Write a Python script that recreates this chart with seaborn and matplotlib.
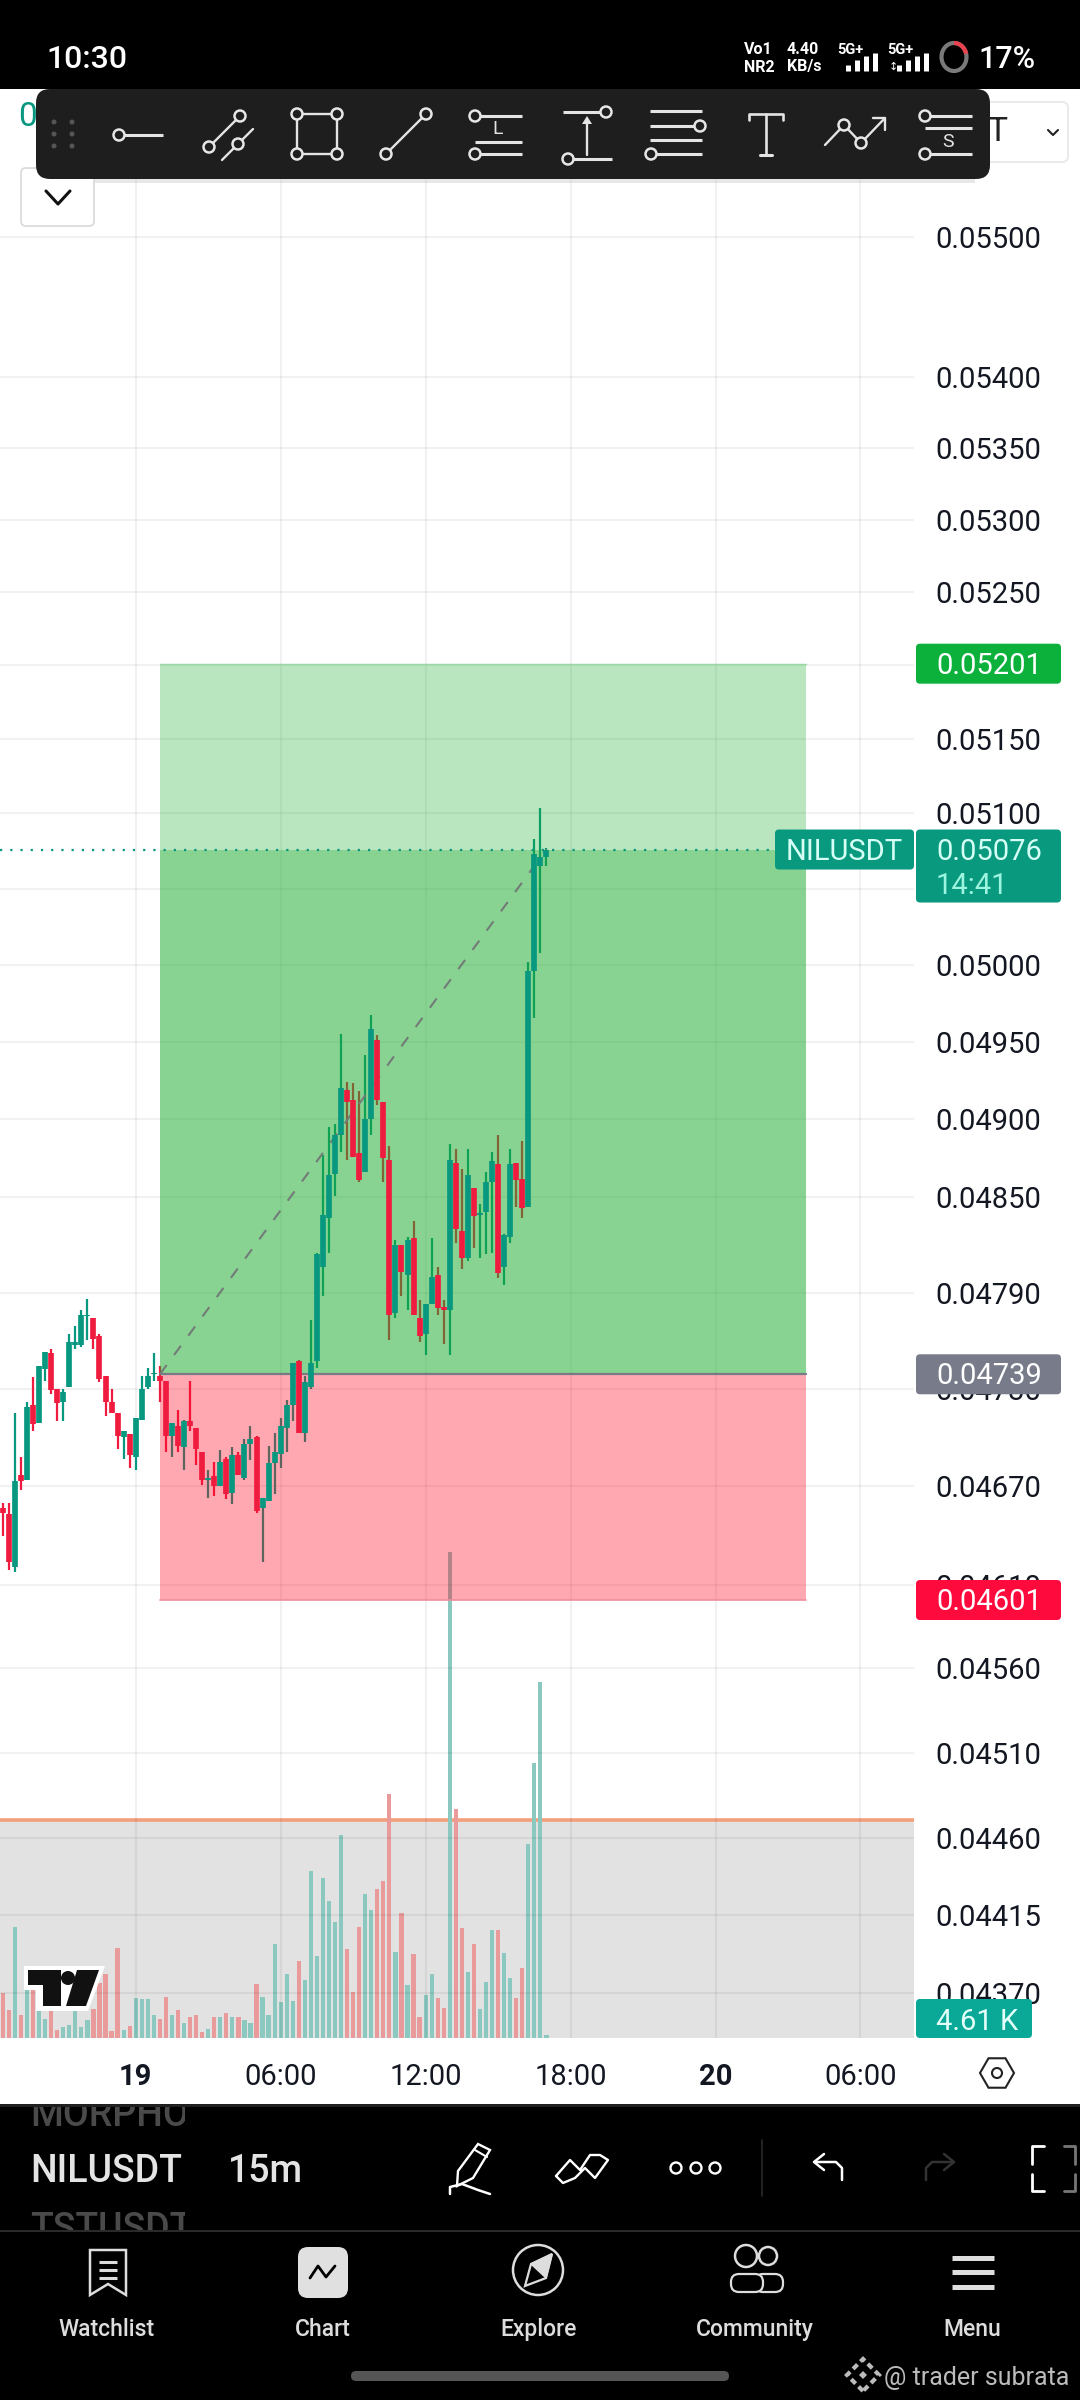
"""NILUSDT 15m chart screen with a long position box and volume."""
import numpy as np
import pandas as pd
import matplotlib
matplotlib.use("Agg")
import matplotlib.pyplot as plt
import seaborn as sns
from matplotlib.patches import Arc, Circle, FancyBboxPatch, Polygon, Rectangle, RegularPolygon
from matplotlib.ticker import NullLocator
from matplotlib.transforms import Bbox

# 15m bars, index 0 is the 00:00 bar of the 19th, prices in 0.00001
bar_index = list(range(-22, 69))
opens = [4657, 4653, 4621, 4677, 4674, 4720, 4709, 4742, 4752, 4730, 4722, 4731, 4757, 4757, 4775, 4774,
         4763, 4738, 4722, 4715, 4700, 4702, 4688, 4711, 4731, 4739, 4738, 4735, 4701, 4707, 4694, 4710,
         4706, 4691, 4674, 4676, 4670, 4687, 4666, 4689, 4675, 4696, 4700, 4657, 4661, 4684, 4690, 4706,
         4720, 4747, 4703, 4731, 4747, 4806, 4837, 4865, 4890, 4919, 4912, 4878, 4866, 4900, 4951, 4911,
         4874, 4777, 4820, 4801, 4824, 4774, 4764, 4783, 4801, 4781, 4779, 4872, 4829, 4812, 4856, 4839,
         4841, 4860, 4871, 4806, 4825, 4872, 4862, 4844, 4996, 5065, 5071]
highs = [4660, 4660, 4715, 4688, 4722, 4737, 4744, 4753, 4755, 4730, 4730, 4764, 4769, 4779, 4786, 4774,
         4764, 4738, 4730, 4715, 4704, 4702, 4712, 4738, 4743, 4752, 4744, 4735, 4709, 4717, 4711, 4735,
         4706, 4691, 4680, 4685, 4692, 4688, 4694, 4691, 4699, 4707, 4701, 4663, 4695, 4703, 4712, 4723,
         4746, 4748, 4738, 4773, 4815, 4877, 4895, 4897, 4955, 4924, 4923, 4918, 4941, 4967, 4954, 4911,
         4883, 4823, 4820, 4825, 4835, 4785, 4783, 4824, 4806, 4785, 4884, 4881, 4868, 4881, 4856, 4846,
         4866, 4879, 4890, 4827, 4881, 4872, 4886, 5002, 5083, 5104, 5077]
lows = [4640, 4619, 4618, 4668, 4674, 4704, 4709, 4735, 4727, 4710, 4710, 4731, 4755, 4756, 4760, 4755,
        4734, 4713, 4715, 4693, 4687, 4681, 4680, 4711, 4730, 4735, 4722, 4691, 4688, 4691, 4680, 4704,
        4683, 4671, 4663, 4664, 4670, 4662, 4659, 4677, 4674, 4686, 4654, 4624, 4661, 4665, 4681, 4691,
        4710, 4703, 4697, 4730, 4743, 4788, 4815, 4851, 4879, 4874, 4876, 4860, 4866, 4890, 4909, 4860,
        4760, 4774, 4788, 4779, 4776, 4759, 4751, 4783, 4776, 4758, 4751, 4821, 4805, 4810, 4818, 4812,
        4814, 4815, 4799, 4795, 4821, 4844, 4837, 4844, 4965, 5008, 5065]
closes = [4654, 4624, 4673, 4673, 4719, 4708, 4744, 4753, 4729, 4721, 4728, 4759, 4759, 4776, 4776, 4761,
          4736, 4722, 4715, 4701, 4704, 4689, 4712, 4730, 4738, 4740, 4735, 4701, 4709, 4695, 4710, 4707,
          4693, 4674, 4675, 4670, 4685, 4665, 4689, 4677, 4696, 4699, 4655, 4663, 4684, 4691, 4707, 4720,
          4746, 4703, 4734, 4746, 4814, 4839, 4864, 4890, 4920, 4911, 4876, 4861, 4900, 4958, 4912, 4875,
          4776, 4820, 4803, 4823, 4776, 4763, 4783, 4800, 4780, 4779, 4874, 4830, 4812, 4864, 4838, 4840,
          4860, 4873, 4802, 4826, 4871, 4861, 4843, 4996, 5073, 5071, 5076]
# volume in thousands
volumes = [72, 44, 177, 37, 77, 77, 44, 31, 43, 12, 17, 21, 44, 18, 28, 47, 88, 102, 11, 144, 12, 19,
           64, 62, 63, 37, 30, 66, 36, 45, 24, 33, 36, 10, 15, 33, 33, 40, 33, 33, 29, 24, 87, 66, 37,
           150, 57, 103, 59, 123, 93, 266, 131, 256, 219, 186, 325, 142, 74, 178, 230, 204, 238, 250,
           389, 138, 200, 84, 134, 34, 68, 103, 64, 48, 777, 365, 175, 106, 150, 46, 89, 172, 172, 136,
           96, 64, 112, 310, 439, 568, 4.61]

price_ticks = [0.055, 0.054, 0.0535, 0.053, 0.0525, 0.052, 0.0515, 0.051, 0.0505, 0.05, 0.0495, 0.049,
               0.0485, 0.0479, 0.0473, 0.0467, 0.0461, 0.0456, 0.0451, 0.0446, 0.04415, 0.0437]
price_labels = [f"{p:.5f}" for p in price_ticks]
time_ticks = [0, 24, 48, 72, 96, 120]
time_labels = ["19", "06:00", "12:00", "18:00", "20", "06:00"]

target_price = 0.05201
entry_price = 0.04739
stop_price = 0.04601
last_price = 0.05076
box_start, box_end = 4, 111
volume_level = 348

UP = "#089880"
DOWN = "#F01C40"
UP_VOL = "#8AC8C0"
DOWN_VOL = "#E99B9B"
W, H = 1080, 2400
TOP, BOTTOM, RIGHT = 89, 2038, 914

sns.set_theme(style="white")
plt.rcParams["font.family"] = ["Roboto", "DejaVu Sans"]

fig = plt.figure(figsize=(W / 100, H / 100), dpi=100, facecolor="white")
pos = [0, 1 - BOTTOM / H, RIGHT / W, (BOTTOM - TOP) / H]
vax = fig.add_axes(pos)
ax = fig.add_axes(pos, sharex=vax)
ax.patch.set_visible(False)

o, h, l, c = [np.array(s) / 1e5 for s in (opens, highs, lows, closes)]
x = np.array(bar_index)
up = c >= o

# volume pane sits under everything else
df = pd.DataFrame({"bar": x, "volume": volumes, "side": np.where(up, "up", "down")})
vax.axhspan(0, volume_level, color="#E2E2E2", lw=0, zorder=0)
vax.axhline(volume_level, color="#F49F7C", lw=2.6, zorder=1)
sns.barplot(data=df, x="bar", y="volume", hue="side", palette={"up": UP_VOL, "down": DOWN_VOL},
            native_scale=True, dodge=False, width=0.7, saturation=1, legend=False, ax=vax, zorder=2,
            edgecolor="none", linewidth=0)
vax.set(xlabel="", ylabel="", ylim=(0, 3113))
vax.set_yticks([])
vax.tick_params(axis="x", labelbottom=False, length=0)

ax.set_yscale("log")
ax.set_xlim(-22.47, 128.86)
ax.set_ylim(0.043446, 0.056074)
ax.yaxis.set_minor_locator(NullLocator())
ax.set_yticks(price_ticks, price_labels)
ax.yaxis.tick_right()
ax.set_xticks(time_ticks, time_labels)
ax.tick_params(axis="y", length=0, pad=15.5, labelsize=21, labelcolor="#131722")
ax.tick_params(axis="x", length=0, pad=18, labelsize=21, labelcolor="#131722")
for i in (0, 4):
    ax.get_xticklabels()[i].set_fontweight("bold")
ax.grid(True, color="black", alpha=0.055, lw=1.5, zorder=0)
ax.set_axisbelow(True)
for a in (ax, vax):
    for s in a.spines.values():
        s.set_visible(False)

# wicks go under the position box, bodies over it
ax.vlines(x[up], l[up], h[up], color=UP, lw=1.6, zorder=1)
ax.vlines(x[~up], l[~up], h[~up], color=DOWN, lw=1.6, zorder=1)

ax.fill_between([box_start, box_end], entry_price, target_price, color="#19AC2D", alpha=0.3, lw=0, zorder=2)
ax.fill_between([box_start, box_end], entry_price, last_price, color="#19AC2D", alpha=0.3, lw=0, zorder=2)
ax.fill_between([box_start, box_end], stop_price, entry_price, color="#FF0623", alpha=0.35, lw=0, zorder=2)
ax.plot([box_start, box_end], [target_price] * 2, color="#9BD8A6", lw=1, zorder=2.1)
ax.plot([box_start, box_end], [entry_price] * 2, color="#787B86", lw=1.6, zorder=2.1)
ax.plot([box_start, box_end], [stop_price] * 2, color="#EE8E9C", lw=1.2, zorder=2.1)
ax.axhline(last_price, color=UP, lw=1.6, ls=(0, (1, 3.6)), zorder=2.2)
ax.plot([box_start, bar_index[-1]], [entry_price, last_price], color="#737B78", lw=1.5, ls=(0, (5.5, 6)), zorder=2.3)

body_top = np.maximum(o, c)
body_bot = np.minimum(o, c)
ax.vlines(x[up], body_bot[up], body_top[up], color=UP, lw=4.1, zorder=3, capstyle="butt")
ax.vlines(x[~up], body_bot[~up], body_top[~up], color=DOWN, lw=4.1, zorder=3, capstyle="butt")

# screen chrome, drawn in pixel coordinates on an overlay
ui = fig.add_axes([0, 0, 1, 1], zorder=10)
ui.set_xlim(0, W)
ui.set_ylim(H, 0)
ui.axis("off")


def price_y(p):
    return H - ax.transData.transform((0, p))[1]


def box(x0, y0, x1, y1, color, r=4, **kw):
    ui.add_patch(FancyBboxPatch((x0 + r, y0 + r), x1 - x0 - 2 * r, y1 - y0 - 2 * r,
                                boxstyle=f"round,pad={r},rounding_size={r}", fc=color, ec=kw.pop("ec", "none"),
                                lw=kw.pop("lw", 0), **kw))


def line(xs, ys, color="#E6E6E6", lw=1.7, **kw):
    ui.plot(xs, ys, color=color, lw=lw, solid_capstyle=kw.pop("cap", "round"), **kw)


def dot(cx, cy, r=5.5, color="#E6E6E6", fc="none", lw=1.8):
    ui.add_patch(Circle((cx, cy), r, fc=fc, ec=color, lw=lw, zorder=5))


# price tags
tag_x0, tag_x1 = 916, 1061
for p, col, txt in [(target_price, "#0CB13C", "0.05201"), (entry_price, "#787B8A", "0.04739"),
                    (stop_price, "#FF0A3C", "0.04601")]:
    y = price_y(p)
    box(tag_x0, y - 20, tag_x1, y + 20, col)
    ui.text(936, y - 1, txt, color="white", fontsize=21, va="center_baseline")
y = price_y(last_price)
box(tag_x0, y - 20, tag_x1, y + 53, "#08997F")
ui.text(936, y - 1, "0.05076", color="#D5FFF5", fontsize=21, va="center_baseline")
ui.text(936, y + 33, "14:41", color="#9DF5E0", fontsize=21, va="center_baseline")
box(775, y - 20, 914, y + 20, "#08997F")
ui.text(844, y - 1, "NILUSDT", color="#D5FFF5", fontsize=21, ha="center", va="center_baseline")
box(tag_x0, 1999, 1032, 2038, "#0AA896")
ui.text(936, 2019, "4.61 K", color="#E2FFFA", fontsize=21, va="center_baseline")

# TradingView mark
ui.add_patch(Polygon([(24, 1966), (105, 1966), (88, 2011), (36, 2011), (36, 1990), (24, 1990)], fc="white", ec="none"))
ui.add_patch(Polygon([(28, 1970), (61, 1970), (61, 2006), (43, 2006), (43, 1985), (28, 1985)], fc="#111111", ec="none"))
ui.add_patch(Circle((68, 1978), 7, fc="#111111", ec="none"))
ui.add_patch(Polygon([(77, 1970), (99, 1970), (86, 2006), (66, 2006)], fc="#111111", ec="none"))

# settings hexagon
ui.add_patch(RegularPolygon((997, 2073), 6, radius=17, orientation=np.pi / 6, fc="none", ec="#222222", lw=1.5))
dot(997, 2073, 5, "#222222", lw=1.5)

# top status bar and items behind the toolbar
ui.add_patch(Rectangle((0, 0), W, TOP, fc="black", ec="none"))
ui.text(27, 117, "0", color=UP, fontsize=24, ha="center", va="center")
box(960, 102, 1068, 162, "white", r=6, ec="#E6E6E6", lw=1.2)
ui.text(997, 132, "T", color="#222222", fontsize=24, ha="center", va="center")
line([1048, 1053, 1058], [130, 135, 130], "#222222", 1.5)
box(21, 168, 94, 226, "white", r=5, ec="#D8D8D8", lw=1.2)
line([46, 58, 70], [191, 204, 191], "#111111", 2.2)
ui.text(46, 57, "10:30", color="white", fontsize=23, fontweight="medium", va="center_baseline")
for xt, t1, t2 in [(744, "Vo1", "NR2"), (787, "4.40", "KB/s")]:
    ui.text(xt, 50, t1, color="white", fontsize=11.5, fontweight="bold", va="center")
    ui.text(xt, 67, t2, color="white", fontsize=11.5, fontweight="bold", va="center")
ui.text(837, 50, "5G+", color="white", fontsize=10.5, fontweight="bold", va="center")
ui.text(887, 50, "5G+", color="white", fontsize=10.5, fontweight="bold", va="center")
for x0 in (848, 899):
    for k, top in enumerate((65, 60, 56, 53)):
        line([x0 + k * 9] * 2, [71, top], "white", 3.6, cap="butt")
ui.text(893, 67, "\u2195", color="white", fontsize=8, ha="center", va="center", family="DejaVu Sans")
ui.add_patch(Arc((954, 57), 25, 28, theta1=0, theta2=360, color="#7A7A7A", lw=3))
ui.add_patch(Arc((954, 57), 25, 28, theta1=-90, theta2=-15, color="#E8414F", lw=3))
ui.text(978, 57, "17%", color="white", fontsize=22, fontweight="medium", va="center_baseline")

# drawing toolbar
box(36, 89, 990, 179, "#1E1E1E", r=14, zorder=1)
ui.add_patch(Rectangle((50, 179), 925, 4, fc="#BBBBBB", alpha=0.35, ec="none", zorder=0.5))
for dy in (122, 134, 146):
    for dx in (54, 72):
        ui.add_patch(Circle((dx, dy), 2.5, fc="#555555", ec="none", zorder=2))
TC = "#E4E4E4"
line([124, 163], [135, 135], TC, 2.2, cap="butt")
dot(119, 135)
line([209, 240], [147, 116], TC)
line([222, 253], [160, 129], TC)
dot(209, 147, fc="#1E1E1E"), dot(240, 116, fc="#1E1E1E"), dot(238, 144, fc="#1E1E1E")
for a1, b1, a2, b2 in [(297, 114, 337, 114), (297, 154, 337, 154), (297, 114, 297, 154), (337, 114, 337, 154)]:
    line([a1, a2], [b1, b2], TC)
for cx, cy in [(297, 114), (337, 114), (297, 154), (337, 154)]:
    dot(cx, cy, fc="#1E1E1E")
line([386, 426], [154, 114], TC)
dot(386, 154, fc="#1E1E1E"), dot(426, 114, fc="#1E1E1E")
for cx, letter in [(475, "L"), (925, "S")]:
    line([cx, cx + 47], [116, 116], TC, 2.2, cap="butt")
    line([cx, cx + 47], [154, 154], TC, 2.2, cap="butt")
    line([cx, cx + 47], [142 if letter == "L" else 128] * 2, TC, 2.2, cap="butt")
    dot(cx, 116, fc="#1E1E1E"), dot(cx, 154, fc="#1E1E1E")
    ui.text(cx + 23, 129 if letter == "L" else 142, letter, color=TC, fontsize=14, ha="center", va="center", zorder=5)
line([563, 606], [112, 112], TC, 2.2, cap="butt")
dot(606, 112, fc="#1E1E1E")
line([587, 587], [155, 120], TC)
ui.add_patch(Polygon([(587, 116), (582, 124), (592, 124)], fc=TC, ec="none", zorder=5))
line([568, 612], [159, 159], TC, 2.2, cap="butt")
dot(568, 159, fc="#1E1E1E")
for yy, xe in [(111, 702), (126, 695), (140, 702), (154, 702)]:
    line([650, xe], [yy, yy], TC, 2.2, cap="butt")
dot(700, 126, fc="#1E1E1E"), dot(651, 154, fc="#1E1E1E")
line([749, 749, 783, 783], [120, 114, 114, 120], TC, 1.9)
line([766, 766], [114, 155], TC, 1.9)
line([760, 772], [155, 155], TC, 2.2)
line([825, 844, 861, 885], [145, 125, 143, 118], TC)
line([873, 885, 885], [118, 118, 130], TC)
dot(844, 125, fc="#1E1E1E"), dot(861, 143, fc="#1E1E1E")

# bottom bars
ui.add_patch(Rectangle((0, 2104), W, H - 2104, fc="black", ec="none", zorder=0.2))
line([0, W], [2105, 2105], "#222222", 2, zorder=0.3)
line([0, W], [2231, 2231], "#2A2A2A", 1.5, zorder=0.3)
clip = Bbox([[0, H - 2230], [185, H - 2107]])
for yy, name in [(2111, "MORPHOUSDT"), (2225, "TSTUSDT")]:
    t = ui.text(30, yy, name, color="#4A4A4A", fontsize=27, fontweight="medium", va="center_baseline")
    t.set_clip_box(clip)
    t.set_clip_on(True)
ui.text(30, 2168, "NILUSDT", color="#E4E4E4", fontsize=27, fontweight="medium", va="center_baseline")
ui.text(228, 2168, "15m", color="#E4E4E4", fontsize=27, fontweight="medium", va="center_baseline")

# pencil
ui.add_patch(Polygon([(478, 2144), (490, 2150), (473, 2178), (457, 2186), (458, 2171)], fc="none", ec="white", lw=1.7))
line([475, 487], [2150, 2157], "white", 1.5)
line([450, 450, 462, 478, 490], [2194, 2187, 2184, 2190, 2194], "white", 1.8)
# templates
line([556, 570, 580, 590, 600, 608, 595, 585, 575, 563, 556], [2176, 2160, 2170, 2155, 2155, 2160, 2178, 2168, 2178, 2183, 2176], "white", 1.7)
for cx in (676, 696, 715):
    dot(cx, 2168, 5.5, "white", lw=1.7)
line([762, 762], [2140, 2196], "#2A2A2A", 1.2)
line([842, 842, 836, 815], [2180, 2168, 2162, 2162], "white", 1.8)
line([824, 814, 824], [2154, 2162, 2170], "white", 1.8)
line([926, 926, 932, 953], [2180, 2168, 2162, 2162], "#333333", 1.8)
line([944, 954, 944], [2154, 2162, 2170], "#333333", 1.8)
# fullscreen corners
line([1044, 1032, 1032], [2146, 2146, 2164], "white", 2)
line([1032, 1032, 1044], [2174, 2191, 2191], "white", 2)
line([1064, 1075, 1075], [2146, 2146, 2164], "#777777", 2)
line([1075, 1075, 1064], [2174, 2191, 2191], "#777777", 2)

NC = "#DDDDDD"
ui.add_patch(Polygon([(90, 2250), (126, 2250), (126, 2295), (108, 2284), (90, 2295)], fc="none", ec=NC, lw=1.8))
for yy in (2262, 2270, 2278):
    line([99, 117], [yy, yy], NC, 2.2, cap="butt")
box(298, 2247, 348, 2298, "#E0E0E0", r=10)
line([310, 318, 326, 335], [2278, 2266, 2277, 2266], "black", 2)
dot(538, 2270, 25, NC, lw=1.8)
ui.add_patch(Polygon([(552, 2254), (546, 2278), (525, 2286), (531, 2264)], fc="none", ec=NC, lw=1.6, zorder=5))
ui.add_patch(Polygon([(552, 2254), (546, 2278), (531, 2264)], fc=NC, ec=NC, lw=1, zorder=5))
dot(746, 2256, 11, NC, lw=1.8), dot(768, 2256, 9, NC, lw=1.8)
box(731, 2274, 763, 2292, "black", r=8, ec=NC, lw=1.6, zorder=6)
box(755, 2274, 783, 2292, "black", r=8, ec=NC, lw=1.6, zorder=5.5)
for yy in (2258, 2272, 2287):
    line([952, 994], [yy, yy], NC, 3.6, cap="butt")
for cx, name in [(107, "Watchlist"), (323, "Chart"), (539, "Explore"), (755, "Community"), (972, "Menu")]:
    ui.text(cx, 2327, name, color=NC, fontsize=16.5, fontweight="medium", ha="center", va="center_baseline")
box(351, 2371, 729, 2381, "#555555", r=5)
ui.add_patch(RegularPolygon((863, 2375), 4, radius=16, fc="none", ec="#BBBBBB", lw=3, ls=(0, (1.5, 1))))
ui.add_patch(RegularPolygon((863, 2375), 4, radius=4, fc="#BBBBBB", ec="none"))
ui.text(884, 2375, "@ trader subrata", color="#BBBBBB", fontsize=18, va="center_baseline")

fig.savefig("out.png", dpi=100)
